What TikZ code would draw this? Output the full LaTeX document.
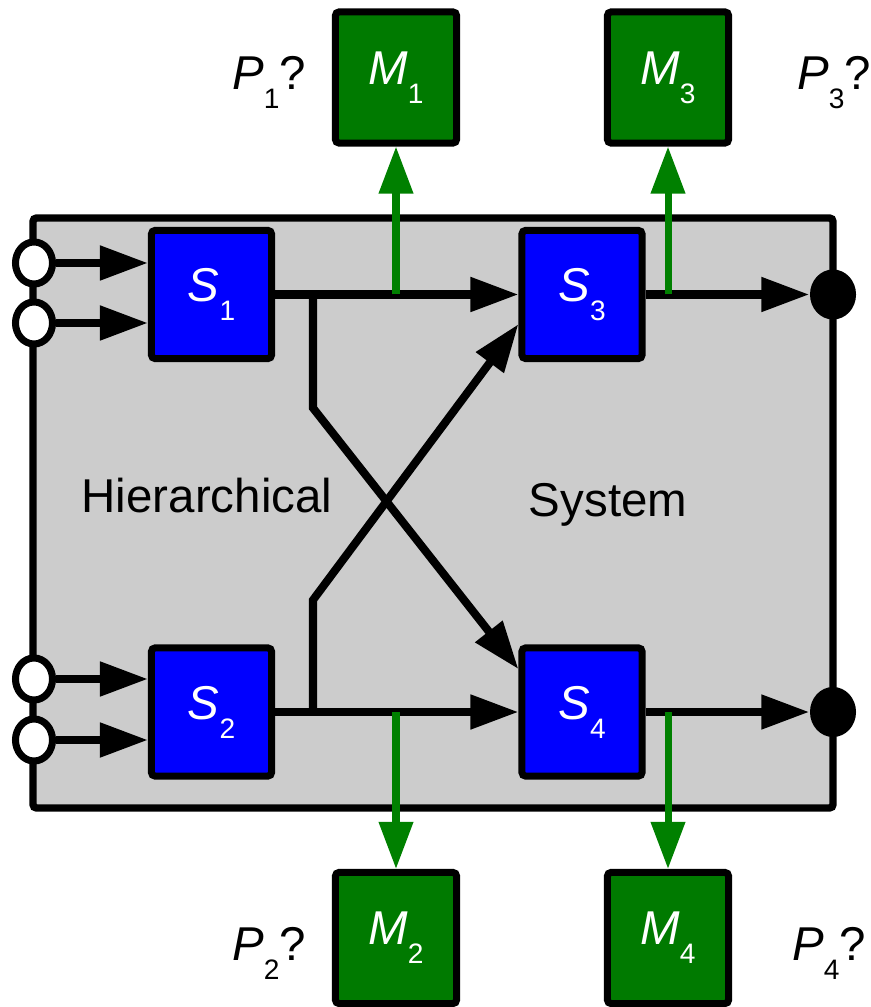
\documentclass[tikz,border=0pt]{standalone}
\usepackage{fontspec}
\setmainfont{Liberation Sans}
\usetikzlibrary{arrows.meta,shapes.geometric}
\definecolor{sysgray}{HTML}{CCCCCC}
\definecolor{subblue}{HTML}{0000FF}
\definecolor{modgreen}{HTML}{007A00}
\definecolor{tapgreen}{HTML}{008000}
\newcommand{\idx}[2]{\textit{#1}\raisebox{-.4em}{\fontsize{8}{9}\selectfont #2}}

\begin{document}
\begin{tikzpicture}[x=.01cm,y=-.01cm,font=\fontsize{13.5}{16}\selectfont,
 sub/.style={draw=black,fill=subblue,text=white,line width=2pt,rounded corners=1pt,minimum width=1.2cm,minimum height=1.28cm,inner sep=0pt},
 mon/.style={sub,fill=modgreen,minimum width=1.21cm,minimum height=1.31cm},
 port/.style={ellipse,draw=black,fill=white,line width=2pt,minimum width=.37cm,minimum height=.42cm,inner sep=0pt},
 sink/.style={ellipse,fill=black,minimum width=.46cm,minimum height=.5cm,inner sep=0pt},
 flow/.style={-{Triangle[length=.48cm,width=.33cm]},line width=2.3pt,draw=black},
 tap/.style={-{Triangle[length=.47cm,width=.33cm]},line width=2pt,draw=tapgreen}]
\path[use as bounding box] (0,0) rectangle (871,1007);
\draw[fill=sysgray,line width=2.1pt,rounded corners=1pt] (33,218) rectangle (833,808);
\node at (207,513) [anchor=base] (hier) {Hierarchical};
\node at (608,517) [anchor=base] (sys) {System};
% subsystems and monitors
\node[sub] (s1) at (211.5,294.5) {\idx{S}{1}};
\node[sub] (s2) at (211.5,712) {\idx{S}{2}};
\node[sub] (s3) at (582,294.5) {\idx{S}{3}};
\node[sub] (s4) at (582,712) {\idx{S}{4}};
\node[mon] (m1) at (396,77.5) {\idx{M}{1}};
\node[mon] (m3) at (668,77.5) {\idx{M}{3}};
\node[mon] (m2) at (396,938) {\idx{M}{2}};
\node[mon] (m4) at (668,938) {\idx{M}{4}};
\node[anchor=base] (p1) at (269,90) {\idx{P}{1}?};
\node[anchor=base] (p3) at (834,90) {\idx{P}{3}?};
\node[anchor=base] (p2) at (269,960) {\idx{P}{2}?};
\node[anchor=base] (p4) at (829,960) {\idx{P}{4}?};
% ports on the border
\foreach \name/\y in {in1/263,in2/323,in3/679,in4/740}
 \node[port] (\name) at (34,\y) {};
\node[sink] (out3) at (833,294.5) {};
\node[sink] (out4) at (833,712) {};
\draw[flow] (in1)--(in1 -| s1.west);
\draw[flow] (in2)--(in2 -| s1.west);
\draw[flow] (in3)--(in3 -| s2.west);
\draw[flow] (in4)--(in4 -| s2.west);
\draw[flow] (s1.east)--(s3.west);
\draw[flow] (s2.east)--(s4.west);
\draw[flow] (s3.east)--(out3.west);
\draw[flow] (s4.east)--(out4.west);
% crossed links
\coordinate (j1) at (313,294.5);
\coordinate (k1) at (313,408);
\coordinate (j2) at (313,712);
\coordinate (k2) at (313,600);
\draw[flow,line join=miter] (j1)--(k1)--(s4.146);
\draw[flow,line join=miter] (j2)--(k2)--(s3.205);
% monitor taps
\draw[tap] (m1.south |- s1.east)--(m1.south);
\draw[tap] (m3.south |- s3.east)--(m3.south);
\draw[tap] (m2.north |- s2.east)--(m2.north);
\draw[tap] (m4.north |- s4.east)--(m4.north);
\end{tikzpicture}
\end{document}
